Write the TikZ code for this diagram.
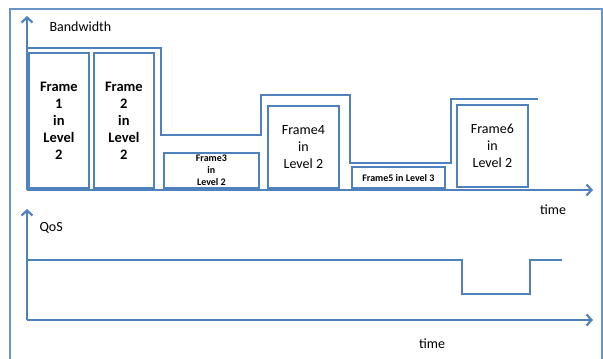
\documentclass[tikz,border=0pt]{standalone}
\usepackage{fontspec}
\setmainfont{Carlito}
\usetikzlibrary{arrows.meta}
\definecolor{lineblue}{RGB}{79,129,189}

\begin{document}
\begin{tikzpicture}[x=1pt, y=-1pt, >={Straight Barb[length=5pt,width=11pt]},
	axis/.style={->, line width=2.2pt, lineblue},
	level/.style={line width=2.4pt, lineblue},
	frame/.style={draw=lineblue, line width=1.8pt, anchor=south west, inner sep=0pt, align=center},
	big/.style={font=\fontsize{14}{17}\selectfont},
	bigbold/.style={font=\fontsize{14.5}{17}\selectfont\bfseries},
	small/.style={font=\fontsize{10}{12}\selectfont\bfseries},
	lbl/.style={font=\fontsize{14}{16}\selectfont}]
	\useasboundingbox (0,0) rectangle (603,359);
	\draw[lineblue!85, line width=1.2pt] (10,359) -- (10,9) -- (602,9) -- (602,359);

	% bandwidth axes
	\coordinate (bo) at (27,190);
	\coordinate (btop) at (27,16);
	\coordinate (bend) at (593,190);
	\draw[axis] (bo) -- (btop);
	\draw[axis] (bo) -- (bend);
	\node[right, lbl] (bw) at (46,27) {Bandwidth};
	\node[lbl] (t1) at (553,210) {time};

	\draw[level] (27,48) -| (161,135) -| (261,95) -| (350,163) -| (451,99) -- (538,99);

	% frames
	\node[frame, bigbold, minimum width=60pt, minimum height=135pt] (f1) at (28,189) {Frame\\1\\in\\Level\\2};
	\node[frame, bigbold, minimum width=60pt, minimum height=135pt] (f2) at (93,189) {Frame\\2\\in\\Level\\2};
	\node[frame, small, minimum width=95pt, minimum height=35pt] (f3) at (163,189) {Frame3\\in\\Level 2};
	\node[frame, big, minimum width=71pt, minimum height=82pt] (f4) at (267,189) {Frame4\\in\\Level 2};
	\node[frame, small, minimum width=93pt, minimum height=21pt] (f5) at (351,189) {Frame5 in Level 3};
	\node[frame, big, minimum width=71pt, minimum height=82pt] (f6) at (456,188) {Frame6\\in\\Level 2};

	% qos axes
	\coordinate (qo) at (27,320);
	\coordinate (qtop) at (27,209);
	\coordinate (qend) at (593,320);
	\draw[axis] (qo) -- (qtop);
	\draw[axis] (qo) -- (qend);
	\node[right, lbl] (qos) at (36,228) {QoS};
	\node[lbl] (t2) at (432,344) {time};

	\draw[level] (27,260) -- (462,260) |- (530,294) |- (562,260);
\end{tikzpicture}
\end{document}
